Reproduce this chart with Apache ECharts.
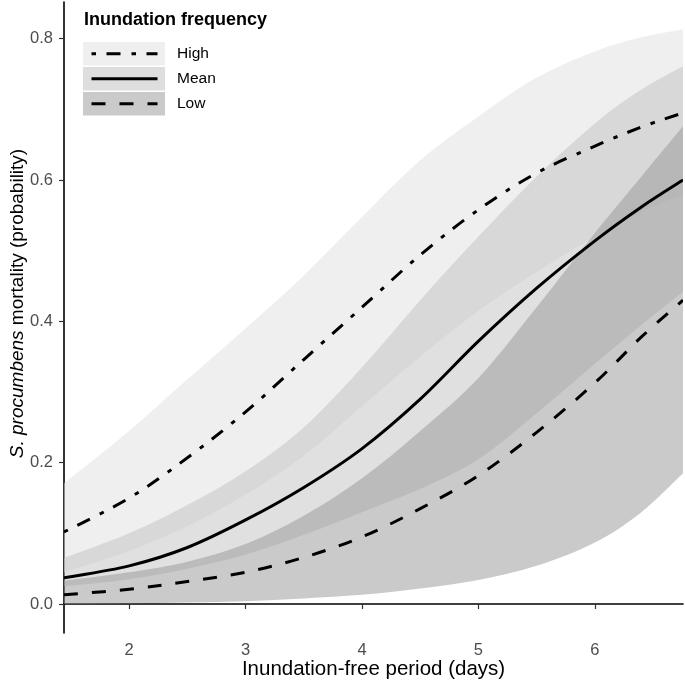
<!DOCTYPE html>
<html>
<head>
<meta charset="utf-8">
<script src="https://cdn.jsdelivr.net/npm/echarts@6/dist/echarts.min.js"></script>
<style>
html,body{margin:0;padding:0;background:#fff;}
#chart{width:685px;height:685px;}
</style>
</head>
<body>
<div id="chart"></div>
<script>
// x positions (days)
const xs = [1.44, 2.0, 2.5, 3.0, 3.5, 4.0, 4.5, 5.0, 5.5, 6.0, 6.4, 6.757];
// fitted curves
const highMean = [0.102, 0.150, 0.207, 0.272, 0.346, 0.420, 0.494, 0.558, 0.610, 0.648, 0.675, 0.695];
const meanMean = [0.037, 0.054, 0.080, 0.119, 0.165, 0.220, 0.290, 0.372, 0.447, 0.514, 0.562, 0.600];
const lowMean  = [0.013, 0.021, 0.032, 0.045, 0.066, 0.095, 0.135, 0.182, 0.243, 0.313, 0.378, 0.430];
// confidence bands
const highUpper = [0.171, 0.245, 0.318, 0.390, 0.465, 0.548, 0.628, 0.690, 0.745, 0.782, 0.802, 0.813];
const highLower = [0.045, 0.075, 0.110, 0.155, 0.210, 0.280, 0.350, 0.415, 0.470, 0.520, 0.555, 0.580];
const meanUpper = [0.065, 0.100, 0.140, 0.188, 0.250, 0.335, 0.430, 0.520, 0.605, 0.680, 0.728, 0.761];
const meanLower = [0.025, 0.035, 0.050, 0.070, 0.098, 0.130, 0.163, 0.205, 0.270, 0.340, 0.395, 0.442];
const lowUpper  = [0.033, 0.045, 0.060, 0.085, 0.125, 0.178, 0.245, 0.320, 0.420, 0.525, 0.605, 0.676];
const lowLower  = [0.000, 0.001, 0.002, 0.004, 0.008, 0.013, 0.022, 0.034, 0.054, 0.087, 0.130, 0.185];
// tick labels
const xTicks = [2, 3, 4, 5, 6];
const yTicks = [0, 0.2, 0.4, 0.6, 0.8];
const groups = ['High', 'Mean', 'Low'];

const FONT = '"Liberation Sans", Arial, sans-serif';
const DASH = {
  High: [4.5, 10.5, 14, 11],
  Mean: null,
  Low: [14, 14]
};
const BAND_FILL = {
  High: 'rgba(223,223,223,0.5)',
  Mean: 'rgba(193,193,193,0.5)',
  Low: 'rgba(149,149,149,0.5)'
};
const KEY_FILL = { High: '#EFEFEF', Mean: '#DEDEDE', Low: '#CACACA' };

function pairs(arr) { return xs.map((x, i) => [x, arr[i]]); }

// Catmull-Rom spline through pixel points -> SVG path segments
function spline(pts) {
  let d = '';
  const n = pts.length;
  for (let i = 0; i < n - 1; i++) {
    const p0 = pts[Math.max(i - 1, 0)], p1 = pts[i], p2 = pts[i + 1], p3 = pts[Math.min(i + 2, n - 1)];
    const c1 = [p1[0] + (p2[0] - p0[0]) / 6, p1[1] + (p2[1] - p0[1]) / 6];
    const c2 = [p2[0] - (p3[0] - p1[0]) / 6, p2[1] - (p3[1] - p1[1]) / 6];
    d += ' C' + c1[0] + ',' + c1[1] + ' ' + c2[0] + ',' + c2[1] + ' ' + p2[0] + ',' + p2[1];
  }
  return d;
}

function band(key, lower, upper) {
  return {
    name: key + ' band', type: 'custom', clip: true, silent: true, z: 1,
    data: xs.map((x, i) => [x, lower[i], upper[i]]),
    encode: { x: 0, y: [1, 2] },
    renderItem: function (params, api) {
      if (params.dataIndex !== 0) return null;
      const up = xs.map((x, i) => api.coord([x, upper[i]]));
      const lo = xs.map((x, i) => api.coord([x, lower[i]])).reverse();
      const d = 'M' + up[0][0] + ',' + up[0][1] + spline(up) +
        ' L' + lo[0][0] + ',' + lo[0][1] + spline(lo) + ' Z';
      return { type: 'path', shape: { pathData: d }, style: { fill: BAND_FILL[key], stroke: null } };
    }
  };
}

function line(key, arr) {
  return {
    name: key, type: 'custom', clip: true, silent: true, z: 3,
    data: pairs(arr),
    encode: { x: 0, y: 1 },
    renderItem: function (params, api) {
      if (params.dataIndex !== 0) return null;
      const pts = xs.map((x, i) => api.coord([x, arr[i]]));
      const d = 'M' + pts[0][0] + ',' + pts[0][1] + spline(pts);
      return { type: 'path', shape: { pathData: d },
        style: { fill: null, stroke: '#000', lineWidth: 3, lineDash: DASH[key] || null, lineCap: 'butt' } };
    }
  };
}

// legend drawn with graphic elements (key box + line sample + label)
const legendGraphics = [];
groups.forEach((g, i) => {
  const top = 42 + i * 25;
  legendGraphics.push({ type: 'rect', x: 83, y: top, z: 5, silent: true,
    shape: { x: 0, y: 0, width: 82, height: 23.5 }, style: { fill: KEY_FILL[g] } });
  legendGraphics.push({ type: 'line', x: 0, y: 0, z: 6, silent: true,
    shape: { x1: 91.5, y1: top + 11.75, x2: 157.5, y2: top + 11.75 },
    style: { stroke: '#000', lineWidth: 3, lineDash: DASH[g] || null, lineCap: 'butt' } });
  legendGraphics.push({ type: 'text', x: 177, y: top + 12, z: 6, silent: true,
    style: { text: g, fontFamily: FONT, fontSize: 15.5, fill: '#000', verticalAlign: 'middle', align: 'left' } });
});

const chart = echarts.init(document.getElementById('chart'), null, { renderer: 'canvas' });

const option = {
  animation: false,
  backgroundColor: '#ffffff',
  textStyle: { fontFamily: FONT },
  grid: { left: 64, right: 2, top: 2, bottom: 52, containLabel: false, outerBoundsMode: 'none' },
  title: {
    text: 'Inundation frequency', left: 84, top: 11, padding: 0,
    textStyle: { fontFamily: FONT, fontSize: 18, fontWeight: 'bold', color: '#000' }
  },
  graphic: legendGraphics,
  xAxis: {
    type: 'value', min: 1.44, max: 6.757,
    name: 'Inundation-free period (days)', nameLocation: 'middle', nameGap: 26, nameMoveOverlap: false,
    nameTextStyle: { fontFamily: FONT, fontSize: 20.5, color: '#000' },
    axisLine: { lineStyle: { color: '#000', width: 1.6 } },
    axisTick: { show: true, length: 5, lineStyle: { color: '#333', width: 1.2 }, customValues: xTicks },
    axisLabel: { customValues: xTicks, fontFamily: FONT, fontSize: 16.5, color: '#4D4D4D', margin: 9 },
    splitLine: { show: false }
  },
  yAxis: {
    type: 'value', min: -0.041, max: 0.852,
    name: '{i|S. procumbens} mortality (probability)', nameLocation: 'middle', nameGap: 37, nameMoveOverlap: false,
    nameTextStyle: { fontFamily: FONT, fontSize: 19, color: '#000', padding: [0, 0, 0, 28],
      rich: { i: { fontFamily: FONT, fontSize: 19, fontStyle: 'italic', color: '#000' } } },
    axisLine: { show: true, lineStyle: { color: '#000', width: 1.6 } },
    axisTick: { show: true, length: 5, lineStyle: { color: '#333', width: 1.2 }, customValues: yTicks },
    axisLabel: { customValues: yTicks, fontFamily: FONT, fontSize: 16.5, color: '#4D4D4D', margin: 11,
      formatter: v => v.toFixed(1) },
    splitLine: { show: false }
  },
  series: [
    band('High', highLower, highUpper),
    band('Mean', meanLower, meanUpper),
    band('Low', lowLower, lowUpper),
    line('High', highMean),
    line('Mean', meanMean),
    line('Low', lowMean)
  ]
};
chart.setOption(option);
</script>
</body>
</html>
